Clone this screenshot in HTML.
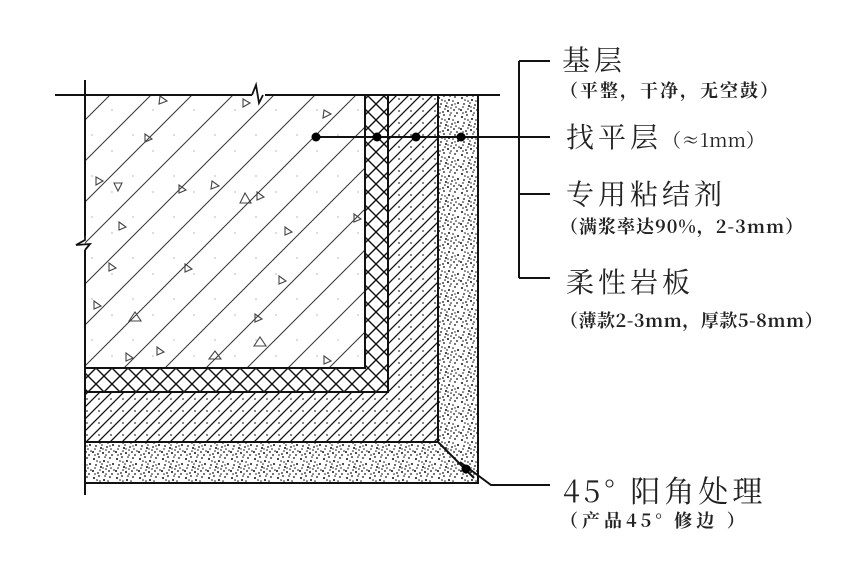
<!DOCTYPE html>
<html><head><meta charset="utf-8"><style>
html,body{margin:0;padding:0;background:#fff;}
body{width:864px;height:565px;overflow:hidden;position:relative;font-family:"Liberation Serif","Noto Serif CJK SC","Noto Sans CJK SC",serif;color:#222;}
.t{position:absolute;white-space:nowrap;line-height:1;}
.big{font-size:28px;letter-spacing:4px;font-family:"Noto Serif CJK SC","Liberation Serif",serif;}
.sm{font-size:18px;font-weight:bold;letter-spacing:2px;font-family:"Noto Serif CJK SC","Liberation Serif",serif;}
</style></head><body>
<svg width="864" height="565" style="position:absolute;left:0;top:0">
<defs>
<pattern id="conc" patternUnits="userSpaceOnUse" width="41" height="41">
<line x1="-41" y1="41" x2="41" y2="-41" stroke="#333" stroke-width="1"/>
<line x1="0" y1="41" x2="41" y2="0" stroke="#333" stroke-width="1"/>
<line x1="0" y1="82" x2="82" y2="0" stroke="#333" stroke-width="1"/>
<circle cx="10" cy="12" r="0.6" fill="#888"/><circle cx="30" cy="28" r="0.6" fill="#888"/>
</pattern>
<pattern id="hatch" patternUnits="userSpaceOnUse" width="12" height="12">
<line x1="-12" y1="12" x2="12" y2="-12" stroke="#111" stroke-width="1.3"/>
<line x1="0" y1="12" x2="12" y2="0" stroke="#111" stroke-width="1.3"/>
<line x1="0" y1="24" x2="24" y2="0" stroke="#111" stroke-width="1.3"/>
<circle cx="3" cy="3" r="0.9" fill="#333"/>
</pattern>
<pattern id="cross" patternUnits="userSpaceOnUse" width="16" height="16">
<line x1="-16" y1="16" x2="16" y2="-16" stroke="#111" stroke-width="1.4"/>
<line x1="0" y1="16" x2="16" y2="0" stroke="#111" stroke-width="1.4"/>
<line x1="0" y1="32" x2="32" y2="0" stroke="#111" stroke-width="1.4"/>
<line x1="0" y1="0" x2="16" y2="16" stroke="#111" stroke-width="1.4"/>
</pattern>
<pattern id="stone" patternUnits="userSpaceOnUse" width="23" height="19">
<g fill="#111">
<circle cx="2" cy="3" r="1"/><circle cx="7" cy="1" r="0.9"/><circle cx="12" cy="5" r="1"/><circle cx="18" cy="2" r="0.9"/><circle cx="21" cy="8" r="1"/>
<circle cx="4" cy="9" r="0.9"/><circle cx="9" cy="11" r="1"/><circle cx="15" cy="10" r="0.9"/><circle cx="1" cy="15" r="1"/><circle cx="6" cy="17" r="0.9"/>
<circle cx="11" cy="16" r="1"/><circle cx="17" cy="15" r="0.9"/><circle cx="20" cy="18" r="0.9"/><circle cx="14" cy="13" r="0.8"/><circle cx="8" cy="6" r="0.8"/>
<circle cx="19" cy="12" r="0.8"/><circle cx="3" cy="12" r="0.8"/><circle cx="16" cy="6" r="0.8"/>
<circle cx="5" cy="5" r="0.8"/><circle cx="10" cy="8" r="0.8"/><circle cx="13" cy="1" r="0.8"/><circle cx="22" cy="14" r="0.8"/><circle cx="8" cy="14" r="0.8"/>
<circle cx="14" cy="18" r="0.8"/><circle cx="3" cy="18" r="0.8"/><circle cx="18" cy="9" r="0.7"/><circle cx="11" cy="12" r="0.7"/>
</g>
</pattern>
</defs>
<path d="M438,95 L478,95 L478,483 L85,483 L85,442 L438,442 Z" fill="url(#stone)"/>
<path d="M388,95 L438,95 L438,442 L85,442 L85,392 L388,392 Z" fill="url(#hatch)"/>
<path d="M365,95 L388,95 L388,392 L85,392 L85,368 L365,368 Z" fill="url(#cross)"/>
<rect x="85" y="95" width="280" height="273" fill="url(#conc)"/>
<g fill="none" stroke="#444" stroke-width="1.1">
<path d="M160,96 l7,5 l-8,3z"/><path d="M243,99 l7,4 l-7,4z"/><path d="M145,134 l7,5 l-7,3z"/><path d="M324,110 l7,4 l-8,4z"/>
<path d="M96,177 l7,4 l-7,4z"/><path d="M114,183 l8,0 l-4,8z"/><path d="M179,185 l7,5 l-7,3z"/><path d="M212,181 l7,5 l-8,3z"/>
<path d="M257,192 l7,5 l-7,3z"/><path d="M240,203 l5,-10 l6,10z"/><path d="M119,222 l7,5 l-7,3z"/><path d="M285,227 l7,5 l-7,3z"/>
<path d="M109,263 l7,5 l-7,3z"/><path d="M185,264 l7,5 l-7,3z"/><path d="M279,276 l7,5 l-7,3z"/><path d="M94,301 l7,5 l-7,3z"/>
<path d="M129,321 l6,-9 l6,9z"/><path d="M255,314 l7,5 l-7,3z"/><path d="M254,346 l6,-9 l6,9z"/><path d="M157,347 l7,5 l-7,3z"/>
<path d="M126,353 l7,5 l-7,3z"/><path d="M209,359 l6,-8 l6,8z"/><path d="M324,356 l7,5 l-7,3z"/><path d="M354,214 l7,5 l-7,3z"/>
</g>
<g stroke="#111" stroke-width="2" fill="none">
<path d="M365,95 L365,368 L85,368"/>
<path d="M388,95 L388,392 L85,392"/>
<path d="M438,95 L438,442 L85,442"/>
<path d="M478,95 L478,483 L85,483"/>
<line x1="438" y1="442" x2="474" y2="478"/>
<line x1="85" y1="80" x2="85" y2="236"/><line x1="85" y1="250" x2="85" y2="495"/>
<line x1="55" y1="95" x2="252" y2="95"/><line x1="265" y1="95" x2="500" y2="95"/>
</g>
<polyline points="252,95 256,85 259,103 263,95" fill="none" stroke="#111" stroke-width="1.8"/>
<polyline points="85,236 85,240 76,245 90,244 85,250" fill="none" stroke="#111" stroke-width="1.8"/>
<g stroke="#111" stroke-width="2" fill="none">
<line x1="316" y1="137" x2="550" y2="137"/>
<polyline points="519,61 550,61"/>
<line x1="519" y1="61" x2="519" y2="278"/>
<line x1="519" y1="194" x2="550" y2="194"/>
<line x1="519" y1="278" x2="550" y2="278"/>
<polyline points="460,462 491,485 550,485"/>
</g>
<g fill="#000">
<circle cx="316" cy="137" r="4.5"/><circle cx="377" cy="137" r="4.5"/><circle cx="416" cy="137" r="4.5"/><circle cx="461" cy="137" r="4.5"/><circle cx="466" cy="469" r="4.5"/>
</g>
</svg>
<div class="t big" style="left:562px;top:45px">基层</div>
<div class="t sm" style="left:560px;top:81px">（平整，干净，无空鼓）</div>
<div class="t big" style="left:566px;top:122px">找平层<span style="font-size:19px;letter-spacing:0">（≈1mm）</span></div>
<div class="t big" style="left:566px;top:179px">专用粘结剂</div>
<div class="t sm" style="left:560px;top:217px;letter-spacing:1px">（满浆率达90%，2-3mm）</div>
<div class="t big" style="left:566px;top:267px">柔性岩板</div>
<div class="t sm" style="left:560px;top:311px;letter-spacing:0.5px">（薄款2-3mm，厚款5-8mm）</div>
<div class="t big" style="left:563px;top:474px;font-size:30px;letter-spacing:4px">45° 阳角处理</div>
<div class="t sm" style="left:560px;top:511px;letter-spacing:4px">（产品45° 修边 ）</div>
</body></html>
